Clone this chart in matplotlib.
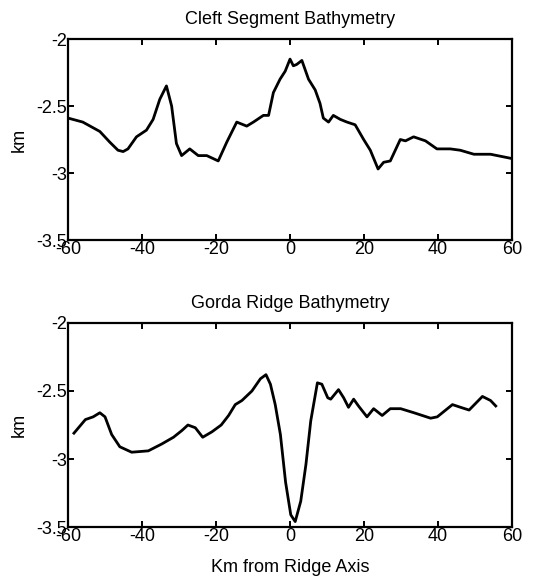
import matplotlib
matplotlib.use("Agg")
import matplotlib.pyplot as plt

plt.rcParams['font.family'] = ['Liberation Sans', 'DejaVu Sans']

cleft_x = [-60, -56, -51.4, -48.7, -46.5, -45.1, -43.8, -41.5, -38.8, -37, -35.2, -33.4,
           -32, -30.7, -29.3, -27.1, -24.8, -22.5, -19.4, -17.1, -14.4, -11.7, -9.9, -7.2,
           -5.8, -4.5, -2.7, -1.3, 0, 0.9, 1.8, 3.2, 5, 6.8, 8.1, 9, 10.4, 11.7, 13.6,
           15.4, 17.6, 19.9, 21.7, 23.8, 25.3, 27.1, 29.8, 31.2, 33.4, 36.6, 39.7, 43.3,
           46, 49.7, 54.2, 59.6]
cleft_y = [-2.59, -2.62, -2.69, -2.77, -2.83, -2.84, -2.82, -2.73, -2.68, -2.60, -2.45, -2.35,
           -2.50, -2.78, -2.87, -2.82, -2.87, -2.87, -2.91, -2.77, -2.62, -2.65, -2.62, -2.57,
           -2.57, -2.40, -2.30, -2.24, -2.15, -2.20, -2.19, -2.16, -2.30, -2.38, -2.48, -2.59,
           -2.62, -2.57, -2.60, -2.62, -2.64, -2.75, -2.83, -2.97, -2.92, -2.91, -2.75, -2.76,
           -2.73, -2.76, -2.82, -2.82, -2.83, -2.86, -2.86, -2.89]

gorda_x = [-58.4, -55.3, -53.2, -51.4, -50.0, -48.2, -46, -42.8, -38.3, -34.7, -31.5, -29.2,
           -27.6, -25.6, -23.6, -21.1, -18.6, -16.6, -14.8, -13.0, -10.3, -8.0, -6.5, -5.3,
           -4, -2.6, -1.2, 0.2, 1.4, 2.9, 4.3, 5.6, 7.4, 8.6, 10.2, 11.0, 13.1, 14.5, 15.8,
           17.2, 18.5, 20.8, 22.6, 24.9, 27.1, 29.9, 33.5, 38.0, 39.8, 43.9, 46.1, 48.4,
           52.0, 54.2, 55.6]
gorda_y = [-2.81, -2.71, -2.69, -2.66, -2.69, -2.82, -2.91, -2.95, -2.94, -2.89, -2.84, -2.79,
           -2.75, -2.77, -2.84, -2.80, -2.75, -2.68, -2.60, -2.57, -2.50, -2.41, -2.38, -2.45,
           -2.60, -2.82, -3.17, -3.41, -3.46, -3.31, -3.04, -2.72, -2.44, -2.45, -2.55, -2.56,
           -2.49, -2.55, -2.62, -2.56, -2.61, -2.69, -2.63, -2.68, -2.63, -2.63, -2.66, -2.70,
           -2.69, -2.60, -2.62, -2.64, -2.54, -2.57, -2.61]

x_ticks = [-60, -40, -20, 0, 20, 40, 60]
x_ticklabels = ['-60', '-40', '-20', '0', '20', '40', '60']
y_ticks = [-3.5, -3, -2.5, -2]
y_ticklabels = ['-3.5', '-3', '-2.5', '-2']

fig = plt.figure(figsize=(5.45, 5.83), dpi=100)
ax1 = fig.add_axes([0.1248, 0.5883, 0.8147, 0.3448])
ax2 = fig.add_axes([0.1248, 0.096, 0.8147, 0.350])

FS = 13
for ax, xs, ys, title in [(ax1, cleft_x, cleft_y, 'Cleft Segment Bathymetry'),
                          (ax2, gorda_x, gorda_y, 'Gorda Ridge Bathymetry')]:
    ax.plot(xs, ys, color='black', linewidth=2.0, solid_joinstyle='round')
    ax.set_xlim(-60, 60)
    ax.set_ylim(-3.5, -2)
    ax.set_xticks(x_ticks)
    ax.set_xticklabels(x_ticklabels)
    ax.set_yticks(y_ticks)
    ax.set_yticklabels(y_ticklabels)
    ax.tick_params(direction='in', top=True, right=True, length=4, width=1.4,
                   labelsize=FS, pad=1)
    for s in ax.spines.values():
        s.set_linewidth(1.6)
    ax.set_title(title, fontsize=FS, pad=11)
    ax.set_ylabel('km', fontsize=FS, labelpad=6)

ax2.set_xlabel('Km from Ridge Axis', fontsize=FS, labelpad=10)

fig.savefig('out.png', dpi=100)
